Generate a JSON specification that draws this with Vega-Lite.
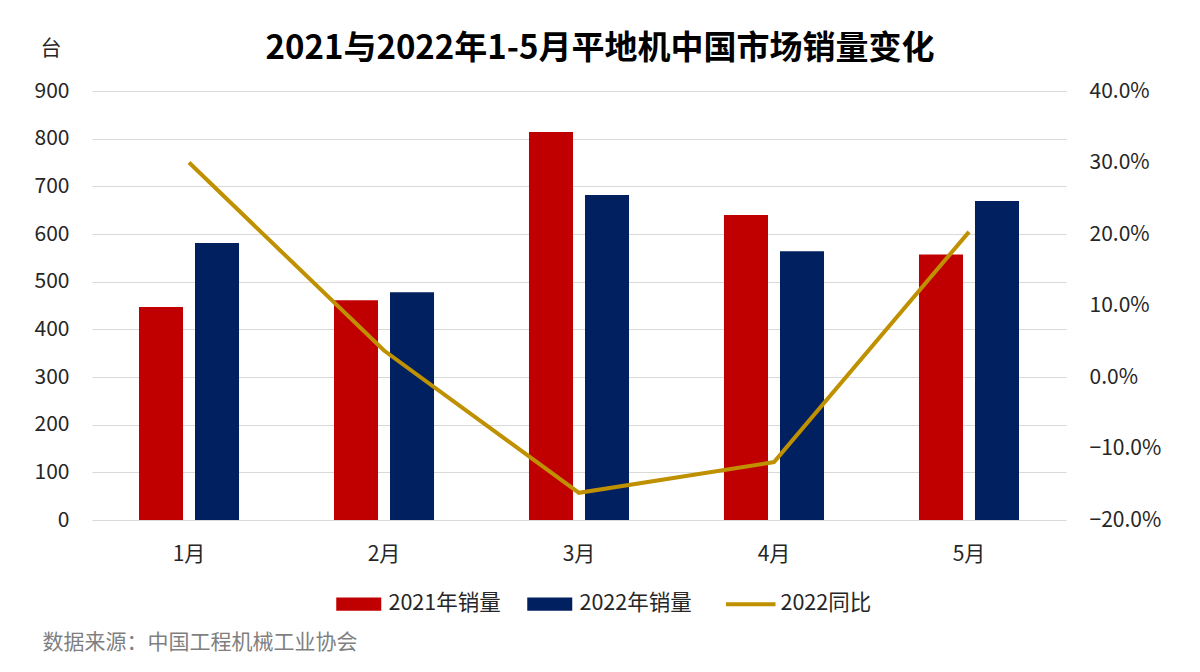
{
  "$schema": "https://vega.github.io/schema/vega-lite/v6.json",
  "width": 974,
  "height": 429,
  "autosize": {"type": "none"},
  "padding": {"left": 92, "top": 91, "right": 134, "bottom": 152},
  "background": "white",
  "title": {
    "text": "2021与2022年1-5月平地机中国市场销量变化",
    "fontSize": 33,
    "fontWeight": "bold",
    "font": "Noto Sans CJK SC",
    "color": "#000000",
    "anchor": "middle",
    "frame": "group",
    "dx": 21,
    "offset": 0,
    "dy": 29
  },
  "datasets": {
    "bars": [
      {"month": "1月", "series": "2021年销量", "value": 447},
      {"month": "1月", "series": "2022年销量", "value": 581},
      {"month": "2月", "series": "2021年销量", "value": 461},
      {"month": "2月", "series": "2022年销量", "value": 478},
      {"month": "3月", "series": "2021年销量", "value": 814},
      {"month": "3月", "series": "2022年销量", "value": 682},
      {"month": "4月", "series": "2021年销量", "value": 640},
      {"month": "4月", "series": "2022年销量", "value": 564},
      {"month": "5月", "series": "2021年销量", "value": 557},
      {"month": "5月", "series": "2022年销量", "value": 669}
    ],
    "yoy": [
      {"month": "1月", "series": "2022同比", "yoy": 0.30},
      {"month": "2月", "series": "2022同比", "yoy": 0.037},
      {"month": "3月", "series": "2022同比", "yoy": -0.162},
      {"month": "4月", "series": "2022同比", "yoy": -0.119},
      {"month": "5月", "series": "2022同比", "yoy": 0.203}
    ]
  },
  "config": {
    "font": "Noto Sans CJK SC",
    "view": {"stroke": null},
    "axis": {
      "labelFont": "Noto Sans CJK SC",
      "labelFontSize": 21,
      "labelColor": "#262626",
      "titleFont": "Noto Sans CJK SC",
      "domain": false,
      "ticks": false
    }
  },
  "layer": [
    {
      "data": {"name": "bars"},
      "mark": {"type": "bar"},
      "encoding": {
        "x": {
          "field": "month",
          "type": "nominal",
          "sort": ["1月", "2月", "3月", "4月", "5月"],
          "scale": {"paddingInner": 0.487, "paddingOuter": 0.241},
          "axis": {
            "labelAngle": 0,
            "labelPadding": 23,
            "title": "数据来源：中国工程机械工业协会",
            "titleFontSize": 21,
            "titleFontWeight": "normal",
            "titleColor": "#7f7f7f",
            "titleAnchor": "start",
            "titleAlign": "left",
            "titleBaseline": "alphabetic",
            "titleX": -50,
            "titleY": 128
          }
        },
        "xOffset": {
          "field": "series",
          "type": "nominal",
          "sort": ["2021年销量", "2022年销量"],
          "scale": {"paddingInner": 0.214, "paddingOuter": 0}
        },
        "y": {
          "field": "value",
          "type": "quantitative",
          "scale": {"domain": [0, 900], "nice": false},
          "axis": {
            "orient": "left",
            "values": [0, 100, 200, 300, 400, 500, 600, 700, 800, 900],
            "grid": true,
            "gridColor": "#d9d9d9",
            "gridWidth": 1,
            "labelPadding": 23,
            "title": "台",
            "titleAngle": 0,
            "titleFontSize": 21,
            "titleFontWeight": "normal",
            "titleColor": "#262626",
            "titleAlign": "left",
            "titleBaseline": "alphabetic",
            "titleAnchor": "start",
            "titleX": -52,
            "titleY": -37
          }
        },
        "color": {
          "field": "series",
          "type": "nominal",
          "scale": {
            "domain": ["2021年销量", "2022年销量", "2022同比"],
            "range": ["#C00000", "#002060", "#BF9000"]
          },
          "legend": {
            "title": null,
            "orient": "none",
            "direction": "horizontal",
            "legendX": 256,
            "legendY": 502,
            "labelFontSize": 21.5,
            "labelColor": "#262626",
            "labelFont": "Noto Sans CJK SC",
            "labelOffset": 19,
            "columnPadding": 26,
            "symbolSize": 2025,
            "encode": {
              "symbols": {
                "update": {
                  "shape": {"signal": "datum.value === '2022同比' ? 'M-1.1,0H1.1' : 'M-1,-0.29H1V0.29H-1Z'"},
                  "fill": {"signal": "datum.value === '2022同比' ? 'transparent' : scale('color', datum.value)"},
                  "stroke": {"signal": "scale('color', datum.value)"},
                  "strokeWidth": {"signal": "datum.value === '2022同比' ? 4 : 0"},
                  "opacity": {"value": 1}
                }
              }
            }
          }
        }
      }
    },
    {
      "data": {"name": "yoy"},
      "mark": {"type": "line", "strokeWidth": 4},
      "encoding": {
        "x": {"field": "month", "type": "nominal", "sort": ["1月", "2月", "3月", "4月", "5月"]},
        "y": {
          "field": "yoy",
          "type": "quantitative",
          "scale": {"domain": [-0.2, 0.4], "nice": false},
          "axis": {
            "orient": "right",
            "format": ".1%",
            "values": [-0.2, -0.1, 0, 0.1, 0.2, 0.3, 0.4],
            "grid": false,
            "labelPadding": 23,
            "title": null
          }
        },
        "color": {"field": "series", "type": "nominal"}
      }
    }
  ],
  "resolve": {"scale": {"y": "independent"}}
}
